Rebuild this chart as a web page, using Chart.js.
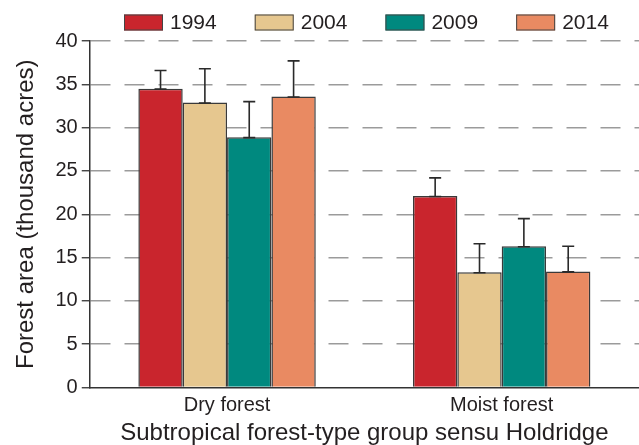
<!DOCTYPE html>
<html>
<head>
<meta charset="utf-8">
<script src="https://cdn.jsdelivr.net/npm/chart.js@4/dist/chart.umd.min.js"></script>
<style>
  html, body { margin: 0; padding: 0; background: #ffffff; }
  #wrap { width: 639px; height: 445px; }
</style>
</head>
<body>
<div id="wrap"><canvas id="c" width="639" height="445"></canvas></div>
<script>
// Forest area by Holdridge subtropical forest-type group and inventory year
const categories = ['Dry forest', 'Moist forest'];
const years = ['1994', '2004', '2009', '2014'];

// Mean forest area (thousand acres), [dry, moist]
const area1994 = [34.5, 22.1];
const area2004 = [32.9, 13.3];
const area2009 = [28.9, 16.3];
const area2014 = [33.6, 13.4];

// Upper standard error (thousand acres), [dry, moist]
const err1994 = [2.1, 2.1];
const err2004 = [3.9, 3.3];
const err2009 = [4.1, 3.2];
const err2014 = [4.1, 2.9];

const yTicks = [0, 5, 10, 15, 20, 25, 30, 35, 40];

const colors = ['#c9252d', '#e6c78f', '#00897f', '#e98a62'];
const textColor = '#231f20';
const fontFamily = '"Liberation Sans", Arial, Helvetica, sans-serif';

const values = [area1994, area2004, area2009, area2014];
const errors = [err1994, err2004, err2009, err2014];

// One-sided (upper) error bars with a cap at the bar top and at the whisker end
const errorBars = {
  id: 'errorBars',
  afterDatasetsDraw(chart) {
    const ctx = chart.ctx;
    const y = chart.scales.y;
    ctx.save();
    ctx.strokeStyle = '#2a2a2a';
    ctx.lineWidth = 1.6;
    chart.data.datasets.forEach((ds, i) => {
      const meta = chart.getDatasetMeta(i);
      meta.data.forEach((bar, j) => {
        const v = ds.data[j];
        const e = ds.errUp[j];
        const x = bar.x;
        const y0 = y.getPixelForValue(v);
        const y1 = y.getPixelForValue(v + e);
        const half = 6;
        ctx.beginPath();
        ctx.moveTo(x, y0);
        ctx.lineTo(x, y1);
        ctx.moveTo(x - half, y1);
        ctx.lineTo(x + half, y1);
        ctx.moveTo(x - half, y0 + 0.5);
        ctx.lineTo(x + half, y0 + 0.5);
        ctx.stroke();
      });
    });
    ctx.restore();
  }
};

// Horizontal legend row above the plot
const legendRow = {
  id: 'legendRow',
  afterDraw(chart) {
    const ctx = chart.ctx;
    ctx.save();
    ctx.font = '21px ' + fontFamily;
    ctx.textBaseline = 'middle';
    ctx.textAlign = 'left';
    let x = 124;
    const top = 14.5, boxW = 39, boxH = 16;
    chart.data.datasets.forEach((ds) => {
      ctx.fillStyle = ds.backgroundColor;
      ctx.fillRect(x, top, boxW, boxH);
      ctx.strokeStyle = '#444';
      ctx.lineWidth = 1;
      ctx.strokeRect(x + 0.5, top + 0.5, boxW - 1, boxH - 1);
      ctx.fillStyle = textColor;
      const tx = x + boxW + 7;
      ctx.fillText(ds.label, tx, top + boxH / 2 + 0.5);
      x = tx + ctx.measureText(ds.label).width + 38;
    });
    ctx.restore();
  }
};

const datasets = years.map((yr, i) => ({
  label: yr,
  data: values[i],
  errUp: errors[i],
  backgroundColor: colors[i],
  borderColor: '#3a3a3a',
  borderWidth: 1.5,
  categoryPercentage: 0.646,
  barPercentage: 1.0
}));

new Chart(document.getElementById('c'), {
  type: 'bar',
  data: { labels: categories, datasets },
  options: {
    responsive: false,
    animation: false,
    devicePixelRatio: 1,
    layout: { padding: { top: 41, left: 0, right: 0, bottom: 0 } },
    plugins: {
      legend: { display: false },
      tooltip: { enabled: false }
    },
    scales: {
      x: {
        grid: { display: false, drawTicks: false },
        border: { display: true, color: '#333', width: 1.5 },
        ticks: {
          color: textColor,
          padding: 5.5,
          font: { family: fontFamily, size: 20, lineHeight: 1.2 }
        },
        title: {
          display: true,
          text: 'Subtropical forest-type group sensu Holdridge',
          color: textColor,
          font: { family: fontFamily, size: 24, lineHeight: 1 },
          padding: { top: -1.5, bottom: 0 }
        }
      },
      y: {
        min: 0,
        max: 40,
        afterBuildTicks(scale) {
          scale.ticks = yTicks.map(v => ({ value: v }));
        },
        grid: {
          color: (c) => (c.tick && c.tick.value === 0) ? 'rgba(0,0,0,0)' : '#9b9b9b',
          lineWidth: 1.5,
          drawTicks: true,
          tickLength: 8,
          tickColor: '#333',
          tickWidth: 1.3
        },
        border: { display: true, color: '#333', width: 1.5, dash: [20, 14] },
        ticks: {
          color: textColor,
          padding: 4,
          font: { family: fontFamily, size: 20, lineHeight: 1.2 }
        },
        title: {
          display: true,
          text: 'Forest area (thousand acres)',
          color: textColor,
          font: { family: fontFamily, size: 24, lineHeight: 1 },
          padding: { top: 14.5, bottom: 13 }
        }
      }
    }
  },
  plugins: [errorBars, legendRow]
});
</script>
</body>
</html>
